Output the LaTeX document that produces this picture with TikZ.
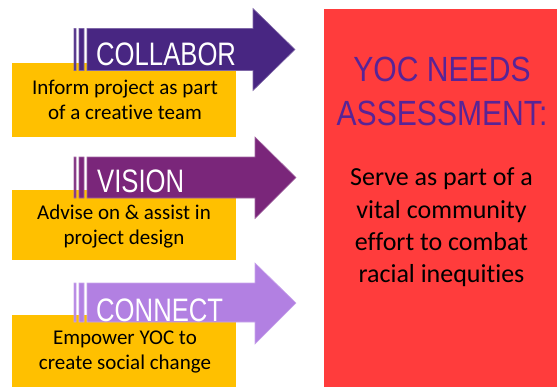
\documentclass[tikz,border=0pt]{standalone}
\usepackage{fontspec}
\setmainfont[RawFeature={-liga;-clig;-calt}]{Carlito}
\newfontfamily\arrowfont[FakeStretch=0.79]{Liberation Sans}
\newfontfamily\needsfont[FakeStretch=0.86]{Liberation Sans}
\definecolor{collabcol}{RGB}{72,38,130}
\definecolor{visioncol}{RGB}{122,38,122}
\definecolor{connectcol}{RGB}{178,128,226}
\definecolor{taskcol}{RGB}{255,192,0}
\definecolor{needscol}{RGB}{255,60,60}
\definecolor{titlecol}{RGB}{88,36,150}

\begin{document}
\begin{tikzpicture}[
			x=1pt,
			y=-1pt,
			taskbox/.style={
				fill=taskcol
			},
			tasktext/.style={
				align=center,
				anchor=base,
				inner sep=0pt,
				font=\fontsize{21}{25}\selectfont
			},
			arrowbody/.style={
				line width=0.6pt,
				line join=miter
			},
			arrowtext/.style={
				anchor=base west,
				inner sep=0pt,
				text=white,
				font=\arrowfont\fontsize{32.5}{34}\selectfont
			}
			]
			\useasboundingbox (0,0) rectangle (557,388);
			
			% Boxes
			\fill[taskbox] (12,63) rectangle (236,137);
			\fill[taskbox] (12,190) rectangle (236,260);
			\fill[taskbox] (12,315) rectangle (236,387);
			\node[tasktext] (inform) at (125,119) {Inform project as part\\of a creative team};
			\node[tasktext] (advise) at (124,244) {Advise on \& assist in\\project design};
			\node[tasktext] (empower) at (125,369) {Empower YOC to\\create social change};
			
			% Arrows
			\filldraw[arrowbody, fill=collabcol, draw=collabcol!70!white]
			(87,28.5) -- (253,28.5) -- (253,8.5) -- (295,49.5) -- (253,90.5) -- (253,70.5) -- (87,70.5) -- cycle
			(74,28.5) rectangle (76,70.5)
			(79,28.5) rectangle (84,70.5);
			\filldraw[arrowbody, fill=visioncol, draw=visioncol!70!white]
			(87,157) -- (255,157) -- (255,137) -- (296,177.5) -- (255,218.5) -- (255,198) -- (87,198) -- cycle
			(74,157) rectangle (76,198)
			(79,157) rectangle (84,198);
			\filldraw[arrowbody, fill=connectcol, draw=connectcol!70!white]
			(87,283) -- (255,283) -- (255,263) -- (296,303) -- (255,344) -- (255,322) -- (87,322) -- cycle
			(74,283) rectangle (76,322)
			(79,283) rectangle (84,322);
			\node[arrowtext] (collab) at (96,65) {COLLABOR};
			\node[arrowtext] (vision) at (97,192) {VISION};
			\node[arrowtext] (connect) at (96,321) {CONNECT};
			
			% Needs
			\fill[needscol] (324,9) rectangle (557,387);
			\node[align=center, anchor=base, inner sep=0pt, text=titlecol,
			font=\needsfont\fontsize{35}{43.3}\selectfont] (title) at (442,125) {YOC NEEDS\\ASSESSMENT:};
			\node[align=center, anchor=base, inner sep=0pt,
			font=\fontsize{26}{32.4}\selectfont] (serve) at (441.5,282.9) {Serve as part of a\\vital community\\effort to combat\\racial inequities};
		\end{tikzpicture}
\end{document}
